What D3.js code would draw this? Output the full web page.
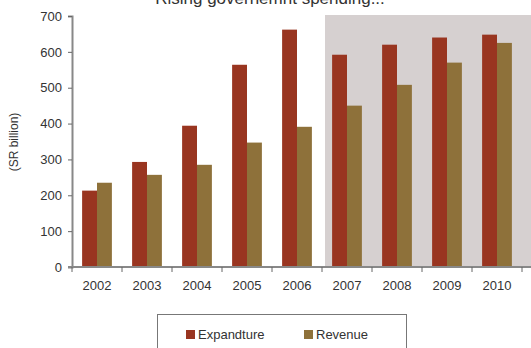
<!DOCTYPE html>
<html>
<head>
<meta charset="utf-8">
<script src="https://cdnjs.cloudflare.com/ajax/libs/d3/7.8.5/d3.min.js"></script>
<style>
  html, body { margin: 0; padding: 0; background: #fff; }
  svg { display: block; }
  text { font-family: "Liberation Sans", Arial, sans-serif; }
</style>
</head>
<body>
<svg id="chart" width="531" height="348"></svg>
<script>
// Saudi budget, SR billion
const years = ["2002", "2003", "2004", "2005", "2006", "2007", "2008", "2009", "2010"];
const expenditure = [213, 293, 394, 564, 662, 592, 620, 640, 648];
const revenue = [235, 257, 285, 347, 391, 450, 508, 570, 625];
const seriesNames = ["Expandture", "Revenue"];
const seriesColors = ["#993520", "#8e713a"];
const yTicks = [0, 100, 200, 300, 400, 500, 600, 700];
const shadedFrom = "2007";

const svg = d3.select("#chart");
const plotLeft = 72, plotRight = 522, plotTop = 16, plotBottom = 267;

const x = d3.scaleBand().domain(years).range([plotLeft, plotRight]).paddingInner(0).paddingOuter(0);
const y = d3.scaleLinear().domain([0, 700]).range([plotBottom, plotTop]);
const inner = d3.scaleBand().domain(seriesNames).range([0, x.bandwidth()]).paddingOuter(0.68).paddingInner(0);

// shaded forecast area
svg.append("rect")
  .attr("x", x(shadedFrom) + 3)
  .attr("y", y(700) - 1)
  .attr("width", 531 - x(shadedFrom) - 3)
  .attr("height", y(0) - y(700) + 1)
  .attr("fill", "#d6d0d0");

// bars
const rows = years.map((yr, i) => ({ year: yr, values: [expenditure[i], revenue[i]] }));
const groups = svg.append("g").selectAll("g").data(rows).join("g")
  .attr("transform", d => `translate(${x(d.year)},0)`);
groups.selectAll("rect")
  .data(d => d.values.map((v, k) => ({ name: seriesNames[k], value: v, color: seriesColors[k] })))
  .join("rect")
  .attr("x", d => inner(d.name))
  .attr("y", d => y(d.value))
  .attr("width", inner.bandwidth())
  .attr("height", d => y(0) - y(d.value))
  .attr("fill", d => d.color);

// y axis
const yAxis = svg.append("g")
  .attr("transform", `translate(${plotLeft},0)`)
  .call(d3.axisLeft(y).tickValues(yTicks).tickSize(4).tickPadding(6));
yAxis.select(".domain").attr("stroke", "#888").attr("stroke-width", 2);
yAxis.selectAll(".tick line").attr("stroke", "#666");
yAxis.selectAll(".tick text").attr("font-size", 13).attr("fill", "#333")
  .attr("font-family", "'Liberation Sans', Arial, sans-serif");

// x axis with ticks at band boundaries
const xAxis = svg.append("g").attr("transform", `translate(0,${plotBottom})`);
xAxis.append("line")
  .attr("x1", plotLeft - 4).attr("x2", 531)
  .attr("y1", 0).attr("y2", 0)
  .attr("stroke", "#888").attr("stroke-width", 2);
const bounds = years.map(yr => x(yr)).concat([x(years[years.length - 1]) + x.bandwidth()]);
xAxis.selectAll("line.tk").data(bounds).join("line").attr("class", "tk")
  .attr("x1", d => d).attr("x2", d => d)
  .attr("y1", 0).attr("y2", 5)
  .attr("stroke", "#666");
xAxis.selectAll("text").data(years).join("text")
  .attr("x", d => x(d) + x.bandwidth() / 2)
  .attr("y", 23)
  .attr("text-anchor", "middle")
  .attr("font-size", 13)
  .attr("fill", "#333")
  .text(d => d);

// y axis title
svg.append("text")
  .attr("transform", "translate(18,142) rotate(-90)")
  .attr("text-anchor", "middle")
  .attr("font-size", 12)
  .attr("fill", "#333")
  .text("(SR billion)");

// chart title
svg.append("text")
  .attr("x", 270)
  .attr("y", 4)
  .attr("text-anchor", "middle")
  .attr("font-size", 17)
  .attr("fill", "#333")
  .text("Rising governemnt spending...");

// legend
const legend = svg.append("g");
legend.append("rect")
  .attr("x", 157.5).attr("y", 314.5)
  .attr("width", 249).attr("height", 60)
  .attr("fill", "#fff").attr("stroke", "#777");
const legendX = [186, 304];
seriesNames.forEach((name, k) => {
  legend.append("rect")
    .attr("x", legendX[k]).attr("y", 330)
    .attr("width", 9).attr("height", 9)
    .attr("fill", seriesColors[k]);
  legend.append("text")
    .attr("x", legendX[k] + 12).attr("y", 339)
    .attr("font-size", 13).attr("fill", "#333")
    .text(name);
});
</script>
</body>
</html>
